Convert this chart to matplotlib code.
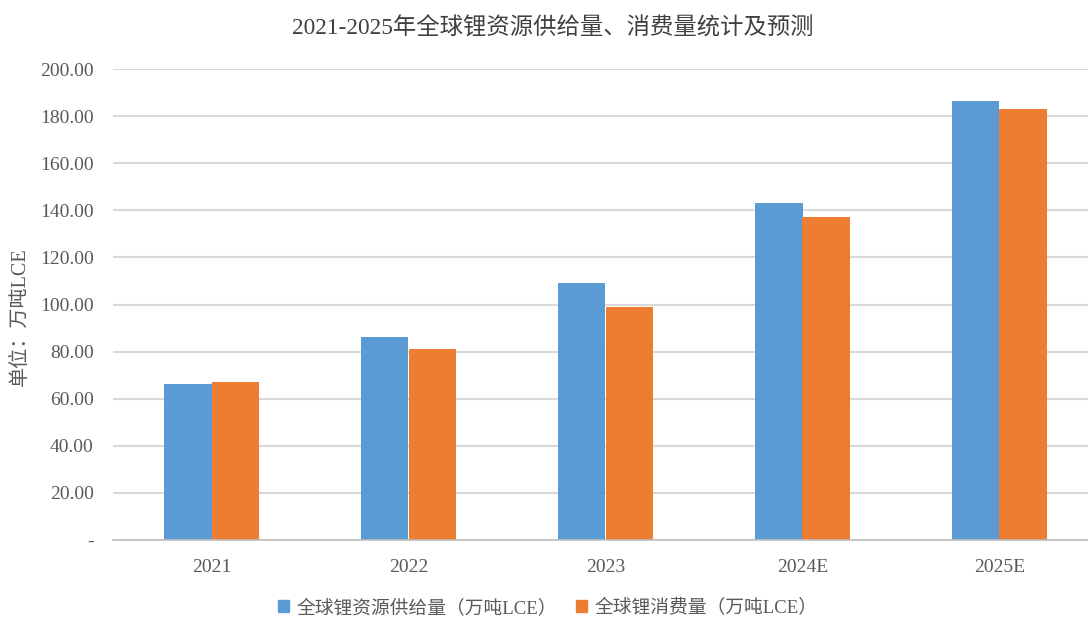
import matplotlib
matplotlib.use("Agg")
import matplotlib.pyplot as plt
from matplotlib.patches import Patch
import numpy as np

plt.rcParams["font.family"] = ["Liberation Serif", "Noto Sans CJK SC", "DejaVu Sans"]

years = ["2021", "2022", "2023", "2024E", "2025E"]
supply = [66.2, 86.1, 109.3, 143.2, 186.3]
consumption = [67.1, 81.1, 98.8, 137.1, 183.0]

title = "2021-2025年全球锂资源供给量、消费量统计及预测"
supply_label = "全球锂资源供给量（万吨LCE）"
consumption_label = "全球锂消费量（万吨LCE）"
y_label = "单位：万吨LCE"

blue = "#5B9BD5"
orange = "#ED7D31"
text_color = "#595959"

fig = plt.figure(figsize=(10.88, 6.17), dpi=100)
ax = fig.add_axes([113 / 1088, 77 / 617, 985 / 1088, 471 / 617])

x = np.arange(len(years))
w = 0.24
ax.bar(x - w / 2, supply, w, color=blue, zorder=3)
ax.bar(x + w / 2, consumption, w, color=orange, zorder=3)

ax.set_xlim(-0.5, len(years) - 0.5)
ax.set_ylim(0, 200)
yt = np.arange(0, 201, 20)
ax.set_yticks(yt)
ax.set_yticklabels(["-"] + [f"{v:.2f}" for v in yt[1:]])
ax.set_xticks(x)
ax.set_xticklabels(years)
ax.tick_params(axis="y", length=0, pad=14, labelsize=14, colors=text_color)
ax.tick_params(axis="x", length=0, pad=14, labelsize=14, colors=text_color)

ax.grid(axis="y", color="#D9D9D9", linewidth=1.5, zorder=0)
for s in ["top", "right", "left"]:
    ax.spines[s].set_visible(False)
ax.spines["bottom"].set_color("#BFBFBF")
ax.spines["bottom"].set_linewidth(1.2)
ax.spines["bottom"].set_zorder(4)

fig.text(553 / 1088, 1 - 28 / 617, title, ha="center", va="center",
         fontsize=16.8, color="#404040")
fig.text(20 / 1088, 1 - 317 / 617, y_label, ha="center", va="center",
         rotation=90, fontsize=14.5, color=text_color)

handles = [Patch(color=blue, label=supply_label),
           Patch(color=orange, label=consumption_label)]
fig.legend(handles=handles, loc="center", bbox_to_anchor=(548 / 1088, 9 / 617),
           ncol=2, frameon=False, fontsize=13.5, handlelength=0.6,
           handleheight=0.6, handletextpad=0.4, columnspacing=1.0,
           labelcolor=text_color)

fig.savefig("out.png", dpi=100)
